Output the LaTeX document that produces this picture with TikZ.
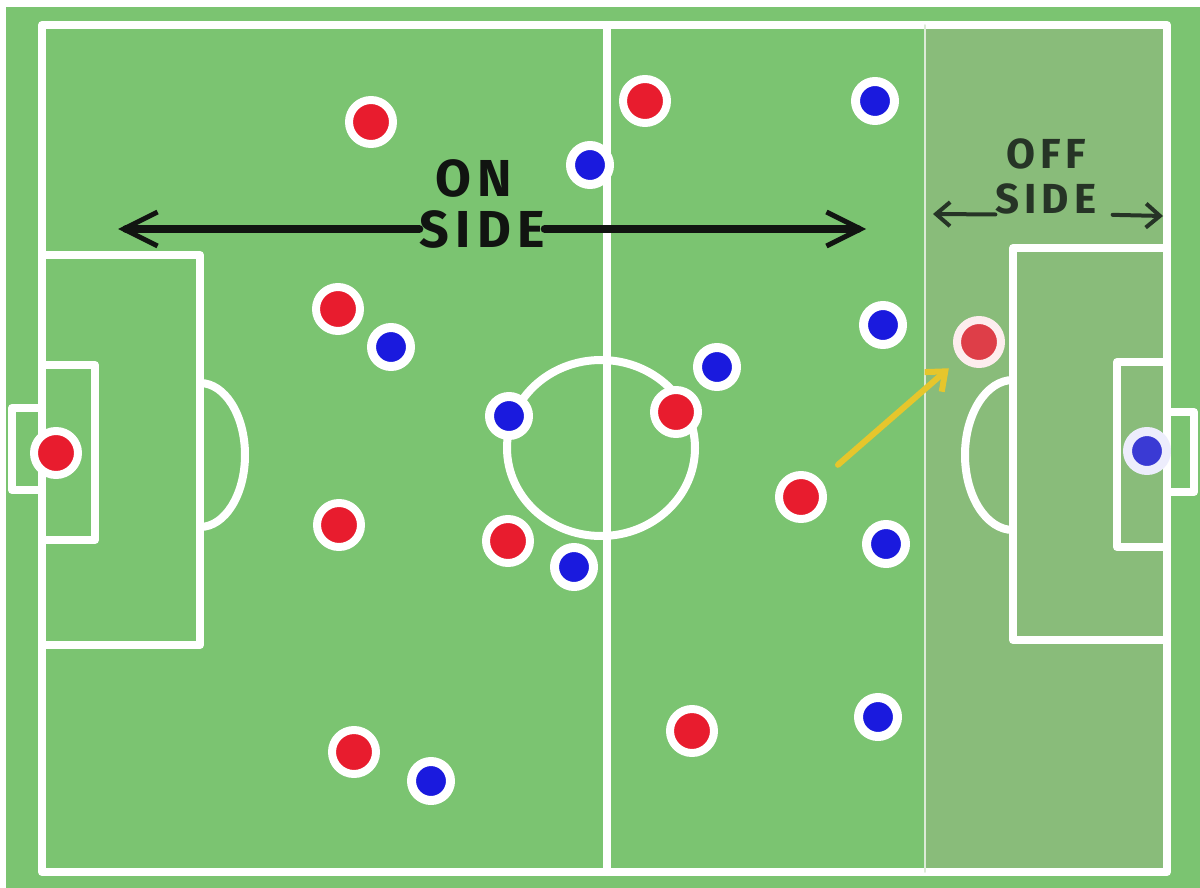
\documentclass[tikz,border=0pt]{standalone}
\usepackage{fontspec}
\usetikzlibrary{arrows.meta}
\newfontfamily\handfont[LetterSpace=12]{Fira Sans}
\definecolor{pitch}{RGB}{123,196,113}
\definecolor{offgreen}{RGB}{137,188,122}
\definecolor{redp}{RGB}{232,28,46}
\definecolor{bluep}{RGB}{26,26,222}
\definecolor{fadedred}{RGB}{222,62,72}
\definecolor{fadedblue}{RGB}{58,58,212}
\definecolor{gold}{RGB}{230,198,44}
\definecolor{ink}{RGB}{17,20,17}
\definecolor{dimink}{RGB}{38,52,38}
\tikzstyle{every path}=[line cap=round,line join=round]
\tikzstyle{line}=[white,line width=8pt]
\tikzstyle{rdot}=[circle,fill=redp,draw=white,line width=8pt,minimum size=44pt,inner sep=0pt]
\tikzstyle{bdot}=[circle,fill=bluep,draw=white,line width=9pt,minimum size=39pt,inner sep=0pt]
\begin{document}
\begin{tikzpicture}[x=1pt,y=-1pt]
		\tikzstyle{txt} = [inner sep=0pt,text=ink,font=\handfont\bfseries\fontsize{52}{56}\selectfont]
		\tikzstyle{smalltxt} = [inner sep=0pt,text=dimink,font=\handfont\bfseries\fontsize{42}{46}\selectfont]
		\tikzstyle{bigarrow} = [ink,line width=8pt,-{Straight Barb[length=34pt,width=34pt,line width=5pt]}]
		\tikzstyle{smallarrow} = [dimink,line width=4pt,-{Straight Barb[length=14pt,width=24pt]}]
		\tikzstyle{yarrow} = [gold,line width=6pt,-{Straight Barb[length=16pt,width=26pt,line width=6pt]}]
		
		\fill[white] (0,0) rectangle (1200,888);
		\fill[pitch] (6,7) rectangle (1200,888);
		\useasboundingbox (0,0) rectangle (1200,888);
		\fill[offgreen] (925,25) rectangle (1168,872);
		
		\coordinate (tl) at (42,25);
		\coordinate (tr) at (1167,25);
		\coordinate (br) at (1167,872);
		\coordinate (bl) at (42,872);
		\coordinate (mt) at (607,25);
		\coordinate (mb) at (607,872);
		
		\draw[line] (tl) -- (tr) -- (br) -- (bl) -- cycle;
		\draw[line] (mt) -- (mb);
		\draw[line] (601,448) ellipse[x radius=94pt,y radius=88pt];
		
		\draw[line] (42,255) -| (200,645) -- (42,645);
		\draw[line] (42,365) -| (95,540) -- (42,540);
		\draw[line] (42,408) -| (12,490) -- (42,490);
		\draw[line] (200,383) arc[start angle=90,end angle=-90,x radius=45pt,y radius=72pt];
		
		\draw[line] (1167,248) -| (1013,640) -- (1167,640);
		\draw[line] (1167,362) -| (1117,547) -- (1167,547);
		\draw[line] (1167,412) -| (1194,492) -- (1167,492);
		\draw[line] (1013,380) arc[start angle=90,end angle=270,x radius=48pt,y radius=75pt];
		\draw[white!70!offgreen,line width=1.5pt] (925,25) -- (925,872);
		
		\node[rdot] (r1) at (371,122) {};
		\node[rdot] (r2) at (645,101) {};
		\node[rdot] (r3) at (338,309) {};
		\node[rdot] (r4) at (56,453) {};
		\node[rdot] (r5) at (339,525) {};
		\node[rdot] (r6) at (508,541) {};
		\node[rdot] (r7) at (676,412) {};
		\node[rdot] (r8) at (801,497) {};
		\node[rdot] (r9) at (354,752) {};
		\node[rdot] (r10) at (692,731) {};
		\node[rdot,fill=fadedred,draw=white!92!redp] (r11) at (979,342) {};
		
		\node[bdot] (b1) at (590,165) {};
		\node[bdot] (b2) at (875,101) {};
		\node[bdot] (b3) at (391,347) {};
		\node[bdot] (b4) at (509,416) {};
		\node[bdot] (b5) at (717,367) {};
		\node[bdot] (b6) at (883,325) {};
		\node[bdot] (b7) at (886,544) {};
		\node[bdot] (b8) at (574,567) {};
		\node[bdot] (b9) at (431,781) {};
		\node[bdot] (b10) at (878,717) {};
		\node[bdot,fill=fadedblue,draw=white!92!bluep] (b11) at (1147,451) {};
		
		\node[txt] (on) at (474,178) {ON};
		\node[txt] (side) at (482,229) {SIDE};
		\coordinate (lend) at (118,229);
		\coordinate (rend) at (866,229);
		\draw[bigarrow] (side.west) -- (lend);
		\draw[bigarrow] (side.east) -- (rend);
		
		\node[smalltxt] (off) at (1046,154) {OFF};
		\node[smalltxt] (side2) at (1046,199) {SIDE};
		\coordinate (ol) at (933,214);
		\coordinate (or) at (1163,216);
		\draw[smallarrow] (side2.south west) -- (ol);
		\draw[smallarrow,shorten <=16pt] (side2.south east) -- (or);
		
		\draw[yarrow,shorten <=23pt,shorten >=14pt] (r8) -- (r11);
		
	\end{tikzpicture}
\end{document}
